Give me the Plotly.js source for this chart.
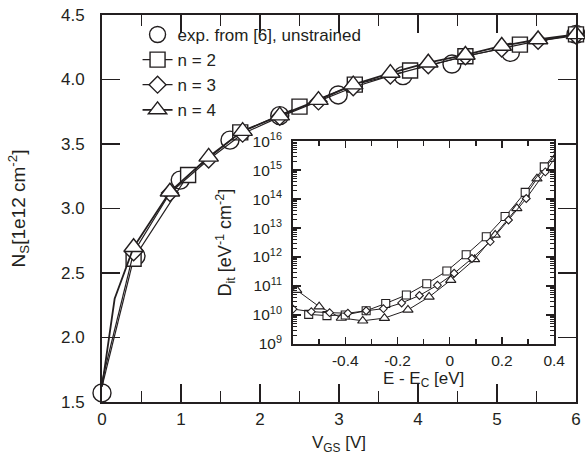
<!DOCTYPE html>
<html>
<head>
<meta charset="utf-8">
<script src="https://cdn.plot.ly/plotly-3.0.1.min.js"></script>
<style>html,body{margin:0;padding:0;background:#fff}#chart{width:585px;height:466px}</style>
</head>
<body>
<div id="chart"></div>
<script>
// ---- Main chart data: N_S vs V_GS ----
const expX = [0, 0.43, 0.99, 1.62, 2.25, 2.99, 3.81, 4.43, 5.17, 6.0];
const expY = [1.57, 2.63, 3.22, 3.53, 3.72, 3.88, 4.03, 4.12, 4.21, 4.35];

const n2X = [0, 0.4, 1.09, 1.75, 2.5, 3.2, 3.9, 4.6, 5.29, 6.0];
const n2Y = [1.62, 2.61, 3.26, 3.59, 3.79, 3.96, 4.07, 4.18, 4.27, 4.35];

const n3X = [0, 0.4, 0.86, 1.35, 1.78, 2.25, 2.74, 3.18, 3.65, 4.13, 4.6, 5.06, 5.52, 6.0];
const n3Y = [1.66, 2.66, 3.12, 3.38, 3.58, 3.71, 3.83, 3.94, 4.03, 4.11, 4.18, 4.24, 4.30, 4.34];

const n4X = [0, 0.16, 0.4, 0.86, 1.35, 1.78, 2.25, 2.74, 3.18, 3.65, 4.13, 4.6, 5.06, 5.52, 6.0];
const n4Y = [1.62, 2.30, 2.70, 3.13, 3.40, 3.60, 3.72, 3.84, 3.96, 4.05, 4.13, 4.19, 4.26, 4.31, 4.35];

// index of the first point of each simulated series that carries a marker
const n2FirstMarked = 1, n3FirstMarked = 1, n4FirstMarked = 2;

// ---- Inset data: D_it vs E - E_C ----
const dit2X = [-0.54, -0.47, -0.40, -0.32, -0.245, -0.166, -0.088, -0.011, 0.063, 0.14, 0.212, 0.289, 0.362, 0.437];
const dit2Y = [1.05e10, 9.5e9, 1.0e10, 1.4e10, 2.5e10, 4.9e10, 1.2e11, 3.3e11, 1.2e12, 5.0e12, 2.5e13, 1.7e14, 1.3e15, 8.9e15];

const dit3X = [-0.6, -0.53, -0.46, -0.39, -0.32, -0.254, -0.184, -0.116, -0.047, 0.017, 0.085, 0.155, 0.225, 0.293, 0.366, 0.436];
const dit3Y = [1.6e10, 1.3e10, 1.2e10, 1.15e10, 1.4e10, 1.65e10, 2.6e10, 4.7e10, 1.07e11, 2.75e11, 8.9e11, 3.4e12, 1.9e13, 1.05e14, 8.7e14, 7.1e15];

const dit4X = [-0.586, -0.50, -0.415, -0.333, -0.25, -0.16, -0.079, 0.004, 0.095, 0.174, 0.257, 0.334, 0.418];
const dit4Y = [7.2e10, 1.95e10, 7.9e9, 6.3e9, 7.8e9, 1.5e10, 4.2e10, 1.6e11, 8.3e11, 5.8e12, 4.8e13, 5.1e14, 5.0e15];

// ---- Axis ranges and tick labels ----
const mainXRange = [0, 6];
const mainYRange = [1.5, 4.5];
const insetXRange = [-0.6, 0.4];
const insetXTicks = [-0.4, -0.2, 0, 0.2, 0.4];
const insetXTickText = ['-0.4', '-0.2', '0', '0.2', '0.4'];
const insetXMinor = [-0.5, -0.3, -0.1, 0.1, 0.3];
const insetYExponents = [9, 10, 11, 12, 13, 14, 15, 16];

const legendNames = ['exp. from [6], unstrained', 'n = 2', 'n = 3', 'n = 4'];

const INK = '#231f20';
const FONT = 'Liberation Sans, Arial, Helvetica, sans-serif';

function mk(symbol, size, lw) {
  return {symbol: symbol, size: size, color: '#ffffff', line: {color: INK, width: lw}};
}

const traces = [];
traces.push({x: expX, y: expY, mode: 'markers', name: legendNames[0],
  marker: mk('circle', 18, 1.4), cliponaxis: false});

function simSeries(xs, ys, first, name, symbol, size, lw) {
  traces.push({x: xs.slice(0, first + 1), y: ys.slice(0, first + 1), mode: 'lines',
    line: {color: INK, width: lw}, showlegend: false, hoverinfo: 'skip'});
  traces.push({x: xs.slice(first), y: ys.slice(first), mode: 'lines+markers', name: name,
    line: {color: INK, width: lw}, marker: mk(symbol, size, 1.4), cliponaxis: false});
}
simSeries(n2X, n2Y, n2FirstMarked, legendNames[1], 'square', 15, 1.2);
simSeries(n3X, n3Y, n3FirstMarked, legendNames[2], 'diamond', 13, 1.2);
simSeries(n4X, n4Y, n4FirstMarked, legendNames[3], 'triangle-up', 17, 1.8);

function insetSeries(xs, ys, symbol, size) {
  traces.push({x: xs, y: ys, xaxis: 'x2', yaxis: 'y2', mode: 'lines+markers', showlegend: false,
    line: {color: INK, width: 1}, marker: mk(symbol, size, 1.1)});
}
insetSeries(dit4X, dit4Y, 'triangle-up', 9);
insetSeries(dit2X, dit2Y, 'square', 8);
insetSeries(dit3X, dit3Y, 'diamond', 6);

// log-axis tick positions built from the decade exponents
const insetYTickVals = insetYExponents.map(e => Math.pow(10, e));
const insetYTickText = insetYExponents.map(e => '10<sup>' + e + '</sup>');
const insetYMinor = [];
insetYExponents.slice(0, -1).forEach(e => { for (let k = 2; k <= 9; k++) insetYMinor.push(k * Math.pow(10, e)); });

// autorange that always includes, and is clipped exactly to, the wanted limits
function fitRange(r) {
  return {autorange: true, autorangeoptions: {include: r, clipmin: r[0], clipmax: r[1]}};
}

const axCommon = {
  showgrid: false, zeroline: false, showline: true, linecolor: INK, linewidth: 2,
  ticks: 'inside', tickcolor: INK, tickwidth: 1.5, mirror: 'ticks',
  tickfont: {family: FONT, size: 17, color: INK}
};

const layout = {
  width: 585, height: 466,
  margin: {l: 102, r: 9, t: 15, b: 64},
  paper_bgcolor: '#ffffff', plot_bgcolor: 'rgba(0,0,0,0)',
  font: {family: FONT, color: INK},
  showlegend: true,
  legend: {x: 0.075, y: 0.995, xanchor: 'left', yanchor: 'top', bgcolor: 'rgba(0,0,0,0)',
    font: {family: FONT, size: 17, color: INK}, tracegroupgap: 0},
  xaxis: Object.assign({}, axCommon, fitRange(mainXRange), {
    tick0: 0, dtick: 1, ticklen: 18, ticklabelstandoff: 1,
    minor: {dtick: 0.5, ticklen: 11, ticks: 'inside', tickwidth: 1.5, tickcolor: INK, showgrid: false},
    title: {text: 'V<sub>GS</sub> [V]', font: {family: FONT, size: 17, color: INK}, standoff: 8}
  }),
  yaxis: Object.assign({}, axCommon, fitRange(mainYRange), {
    tick0: 1.5, dtick: 0.5, tickformat: '.1f', ticklen: 18, ticklabelstandoff: 12,
    title: {text: 'N<sub>S</sub>[1e12 cm<sup>-2</sup>]', font: {family: FONT, size: 19, color: INK}, standoff: 30}
  }),
  xaxis2: Object.assign({}, axCommon, fitRange(insetXRange), {
    anchor: 'y2', domain: [0.403, 0.954],
    tickmode: 'array', tickvals: insetXTicks, ticktext: insetXTickText, ticklen: 7,
    tickfont: {family: FONT, size: 15.5, color: INK}, ticklabelstandoff: 1,
    minor: {tickmode: 'array', tickvals: insetXMinor, ticklen: 5, ticks: 'inside', tickwidth: 1.5, tickcolor: INK, showgrid: false},
    title: {text: 'E - E<sub>C</sub> [eV]', font: {family: FONT, size: 17, color: INK}, standoff: 2}
  }),
  yaxis2: Object.assign({}, axCommon, {
    anchor: 'x2', domain: [0.15, 0.674], type: 'log', range: [insetYExponents[0], insetYExponents[insetYExponents.length - 1]],
    tickmode: 'array', tickvals: insetYTickVals, ticktext: insetYTickText, ticklen: 8, ticklabelstandoff: 6,
    tickfont: {family: FONT, size: 15.5, color: INK},
    minor: {tickmode: 'array', tickvals: insetYMinor, ticklen: 4, ticks: 'inside', tickwidth: 1, tickcolor: INK, showgrid: false},
    title: {text: 'D<sub>it</sub> [eV<sup>-1</sup> cm<sup>-2</sup>]', font: {family: FONT, size: 18, color: INK}, standoff: 16}
  })
};

Plotly.newPlot('chart', traces, layout, {displayModeBar: false, staticPlot: true});
</script>
</body>
</html>
